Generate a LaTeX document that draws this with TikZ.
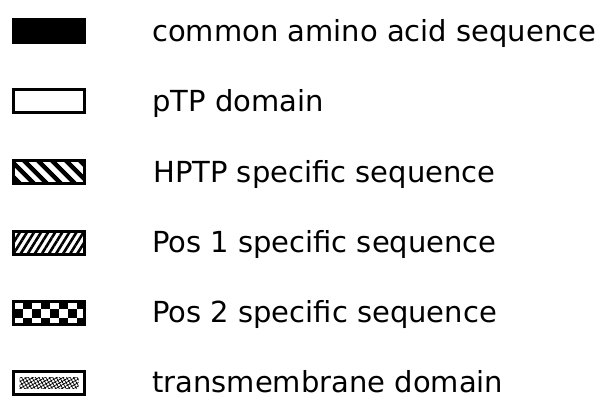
\documentclass[tikz,border=0pt]{standalone}
\usepackage{fontspec}
\setmainfont{DejaVu Sans}
\usetikzlibrary{positioning}
\usetikzlibrary{patterns.meta}

\begin{document}
\begin{tikzpicture}[x=1pt,y=-1pt,node distance=44pt,
  key/.style={draw,line width=3pt,minimum width=71pt,minimum height=23pt,inner sep=0pt,fill=white},
  lbl/.style={anchor=west,inner sep=0pt,text height=21pt,text depth=1pt,font=\fontsize{29}{34}\selectfont},
  common/.style={key,fill=black},
  hptp/.style={key,pattern={Lines[angle=-45,distance=10.5pt,line width=5pt]}},
  posone/.style={key,pattern={Lines[angle=58,distance=6pt,line width=2.6pt]}},
  postwo/.style={key,fill=black,path picture={
    \foreach \i in {0,2,...,8} \foreach \j in {0,2}
      \fill[white] ([shift={(\i*9,\j*9-1)}]path picture bounding box.north west) rectangle ++(9,9);
    \foreach \i in {1,3,...,9} \foreach \j in {1}
      \fill[white] ([shift={(\i*9,\j*9-1)}]path picture bounding box.north west) rectangle ++(9,9);}},
  trans/.style={key,path picture={
    \fill[pattern={Hatch[angle=30,distance=3pt,line width=0.7pt]}]
      ([shift={(6,6)}]path picture bounding box.north west) rectangle ([shift={(-6,-6)}]path picture bounding box.south east);}}]
\useasboundingbox (0,0) rectangle (610,400);

\node [common] (cbox) at (49,31) {};
\node [key, below=of cbox] (pbox) {};
\node [hptp, below=of pbox] (hbox) {};
\node [posone, below=of hbox] (oneb) {};
\node [postwo, below=of oneb] (twob) {};
\node [trans, below=of twob] (tbox) {};

\node [lbl, right=66pt of cbox] (ctext) {common amino acid sequence};
\node [lbl, right=66pt of pbox] (ptext) {pTP domain};
\node [lbl, right=66pt of hbox] (htext) {HPTP specific sequence};
\node [lbl, right=66pt of oneb] (onet) {Pos 1 specific sequence};
\node [lbl, right=66pt of twob] (twot) {Pos 2 specific sequence};
\node [lbl, right=66pt of tbox] (ttext) {transmembrane domain};
\end{tikzpicture}
\end{document}
